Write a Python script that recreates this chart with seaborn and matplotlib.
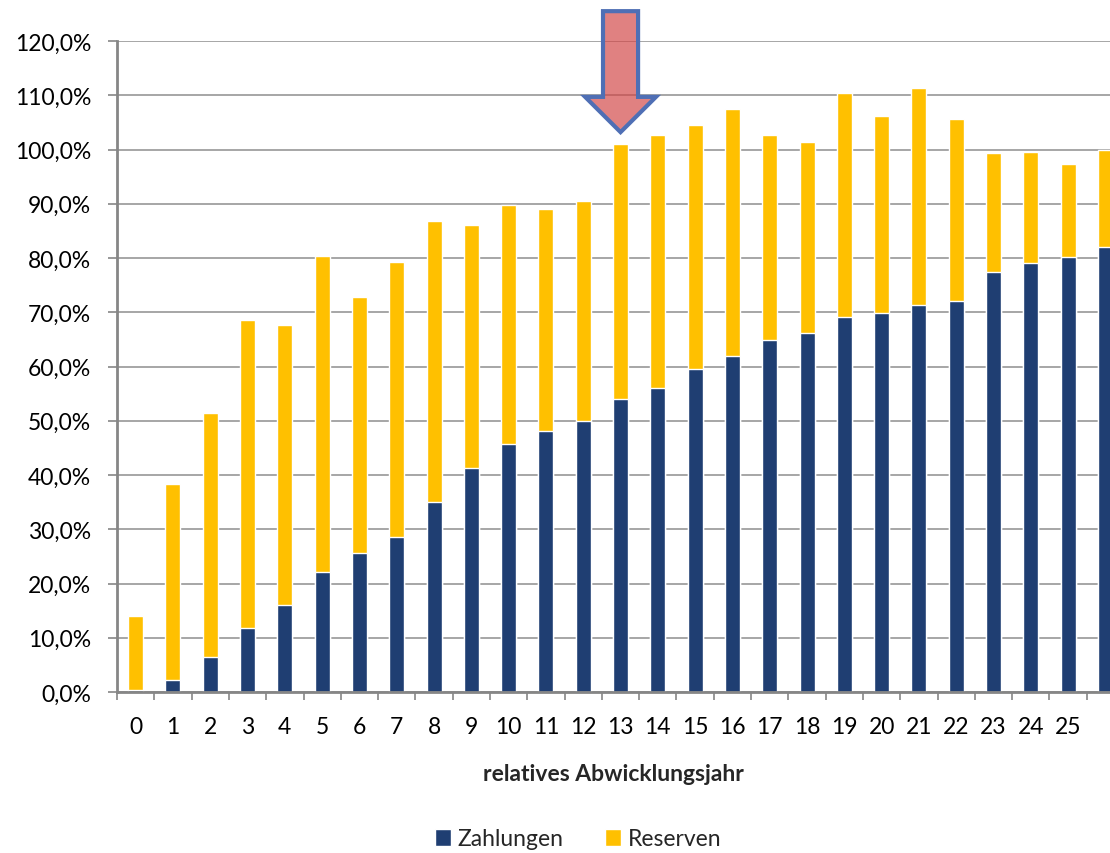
import matplotlib
matplotlib.use("Agg")
import matplotlib.pyplot as plt
from matplotlib.patches import Patch, Polygon
from matplotlib.ticker import FuncFormatter, FixedLocator
import numpy as np
import pandas as pd
import seaborn as sns

# Development year (relative) and cumulative shares in percent of ultimate
jahre = list(range(27))
zahlungen = [0.3, 2.2, 6.4, 11.8, 16.0, 22.2, 25.6, 28.5, 35.1, 41.3, 45.7, 48.2, 49.9,
             54.0, 56.0, 59.5, 61.9, 64.9, 66.2, 69.1, 69.9, 71.3, 72.0, 77.4, 79.1, 80.1, 82.1]
reserven = [13.7, 36.1, 45.0, 56.8, 51.6, 58.2, 47.2, 50.7, 51.7, 44.8, 44.1, 40.8, 40.6,
            47.0, 46.7, 45.0, 45.6, 37.8, 35.1, 41.3, 36.3, 40.0, 33.7, 21.9, 20.4, 17.2, 17.9]
tick_labels = [str(j) for j in range(26)]
markiertes_jahr = 13

farbe_zahlungen = "#1F3E72"
farbe_reserven = "#FFC000"
schrift = 16.5

df = pd.DataFrame({"jahr": jahre, "zahlungen": zahlungen, "reserven": reserven})
df["gesamt"] = df["zahlungen"] + df["reserven"]

sns.set_theme(style="white")
plt.rcParams["font.family"] = ["Lato", "DejaVu Sans"]

fig = plt.figure(figsize=(11.10, 8.54), dpi=100)
ax = fig.add_axes([117 / 1110, 1 - 693 / 854, 1 - 117 / 1110, (693 - 42) / 854])

# stacked bars: total in yellow, payments drawn over the lower part
sns.barplot(data=df, x="jahr", y="gesamt", color=farbe_reserven, width=0.4,
            saturation=1, ax=ax, zorder=3, order=jahre)
sns.barplot(data=df, x="jahr", y="zahlungen", color=farbe_zahlungen, width=0.4,
            saturation=1, ax=ax, zorder=4, order=jahre)

unit = 37.3
ax.set_xlim(-0.5, -0.5 + (1110 - 117) / unit)
ax.set_ylim(0, 120)
ax.set_yticks(np.arange(0, 121, 10))
ax.yaxis.set_major_formatter(FuncFormatter(lambda v, p: f"{v:.1f}".replace(".", ",") + "%"))
ax.yaxis.grid(True, color="#A6A6A6", linewidth=1.4, zorder=0)
ax.set_axisbelow(True)

ax.set_xticks(range(len(tick_labels)))
ax.set_xticklabels(tick_labels)
ax.xaxis.set_minor_locator(FixedLocator(np.arange(-0.5, 27, 1.0)))
ax.tick_params(axis="x", which="major", length=0, pad=17, labelsize=schrift, colors="black")
ax.tick_params(axis="x", which="minor", length=6, width=1.2, color="#868686", bottom=True)
ax.tick_params(axis="y", which="major", length=6.5, width=1.2, color="#868686", pad=12,
               labelsize=schrift, left=True, labelcolor="black")

for side in ["top", "right"]:
    ax.spines[side].set_visible(False)
for side in ["left", "bottom"]:
    ax.spines[side].set_color("#868686")
    ax.spines[side].set_linewidth(2)
    ax.spines[side].set_zorder(5)

ax.set_ylabel("")
ax.set_xlabel("relatives Abwicklungsjahr", fontsize=schrift, fontweight="bold", labelpad=19)

# highlighting arrow above the marked year
cx = markiertes_jahr
shaft = 0.47
head = 0.95
pfeil = Polygon([(cx - shaft, 125.5), (cx + shaft, 125.5), (cx + shaft, 109.7),
                 (cx + head, 109.7), (cx, 103.2), (cx - head, 109.7), (cx - shaft, 109.7)],
                closed=True, facecolor="#D24545", alpha=0.68, edgecolor="none",
                clip_on=False, zorder=6)
ax.add_patch(pfeil)
rand = Polygon(pfeil.get_xy(), closed=True, facecolor="none", edgecolor="#4F6FB5",
               linewidth=3, clip_on=False, zorder=7, joinstyle="miter")
ax.add_patch(rand)

handles = [Patch(facecolor=farbe_zahlungen, label="Zahlungen"),
           Patch(facecolor=farbe_reserven, label="Reserven")]
fig.legend(handles=handles, loc="center", bbox_to_anchor=(578 / 1110, 1 - 840 / 854),
           ncol=2, frameon=False, fontsize=schrift, handlelength=0.7, handleheight=0.7,
           handletextpad=0.3, columnspacing=1.8)

fig.savefig("out.png", dpi=100)
